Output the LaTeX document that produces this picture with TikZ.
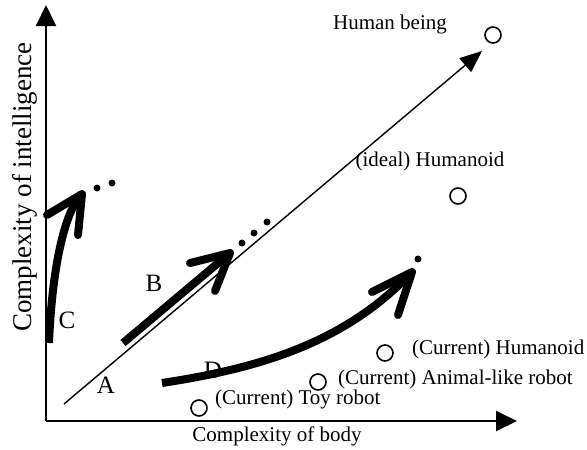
\documentclass[tikz,border=0pt]{standalone}
\usepackage{fontspec}
\setmainfont{Liberation Serif}
\usetikzlibrary{arrows.meta}
\begin{document}
\begin{tikzpicture}[x=1pt,y=-1pt,
  lbl/.style={font=\fontsize{21}{25}\selectfont, inner sep=0pt},
  ylbl/.style={font=\fontsize{27}{32}\selectfont, inner sep=0pt},
  big/.style={font=\fontsize{25}{30}\selectfont, inner sep=0pt},
  pt/.style={circle, draw, line width=1.6pt, minimum size=16pt, inner sep=0pt},
  shaft/.style={line width=8pt, line cap=butt},
  arms/.style={line width=8pt, line cap=round, line join=round},
  dotn/.style={circle, fill, minimum size=7pt, inner sep=0pt}]
\useasboundingbox (0,0) rectangle (587,450);
% axes
\coordinate (O) at (46,421);
\coordinate (Ytip) at (46,5);
\coordinate (Xtip) at (517,421);
\draw[line width=2pt, -{Triangle[length=21pt,width=20pt]}] (O) -- (Ytip);
\draw[line width=2pt, -{Triangle[length=21pt,width=20pt]}] (O) -- (Xtip);
\node[ylbl, rotate=90, anchor=base] (ylab) at (31,187) {Complexity of intelligence};
\node[lbl, anchor=base] (xlab) at (277,441) {Complexity of body};
% diagonal
\coordinate (D0) at (64,404);
\coordinate (D1) at (482,51);
\draw[line width=1.4pt, -{Triangle[length=22pt,width=18pt]}] (D0) -- (D1);
% points
\node[pt] (human) at (493,35) {};
\node[lbl, anchor=base] (humanl) at (390,29) {Human being};
\node[pt] (ideal) at (458,196) {};
\node[lbl, anchor=base] (ideall) at (430,166) {(ideal) Humanoid};
\node[pt] (curh) at (385,353) {};
\node[lbl, anchor=base west] (curhl) at (412,354) {(Current) Humanoid};
\node[pt] (anim) at (318,382) {};
\node[lbl, anchor=base west] (animl) at (338,384) {(Current) Animal-like robot};
\node[pt] (toy) at (199,408) {};
\node[lbl, anchor=base west] (toyl) at (215,404) {(Current) Toy robot};
% letters
\node[big, anchor=base] (A) at (106,393) {A};
\node[big, anchor=base] (B) at (154,291) {B};
\node[big, anchor=base] (C) at (67,328) {C};
\node[big, anchor=base] (Dl) at (213,378) {D};
% arrow B
\coordinate (Bs) at (123,343);
\coordinate (Bt) at (230,253);
\coordinate (Bl) at (190,263);
\coordinate (Br) at (215,291);
\draw[shaft] (Bs) -- (Bt);
\draw[arms] (Bl) -- (Bt) -- (Br);
\node[dotn] (b1) at (242,243) {};
\node[dotn] (b2) at (254,233) {};
\node[dotn] (b3) at (267,222) {};
% arrow C
\coordinate (Cs) at (49,343);
\coordinate (Ct) at (82,194);
\coordinate (Cl) at (47,215);
\coordinate (Cr) at (78,235);
\draw[shaft] (Cs) .. controls (52,270) and (64,212) .. (Ct);
\draw[arms] (Cl) -- (Ct) -- (Cr);
\node[dotn] (c1) at (97,188) {};
\node[dotn] (c2) at (112,183) {};
% arrow D
\coordinate (Ds) at (162,383);
\coordinate (Dt) at (412,272);
\coordinate (Dla) at (372,292);
\coordinate (Dra) at (398,315);
\draw[shaft] (Ds) .. controls (260,368) and (345,343) .. (Dt);
\draw[arms] (Dla) -- (Dt) -- (Dra);
\node[dotn] (d1) at (418,259) {};
\end{tikzpicture}
\end{document}
